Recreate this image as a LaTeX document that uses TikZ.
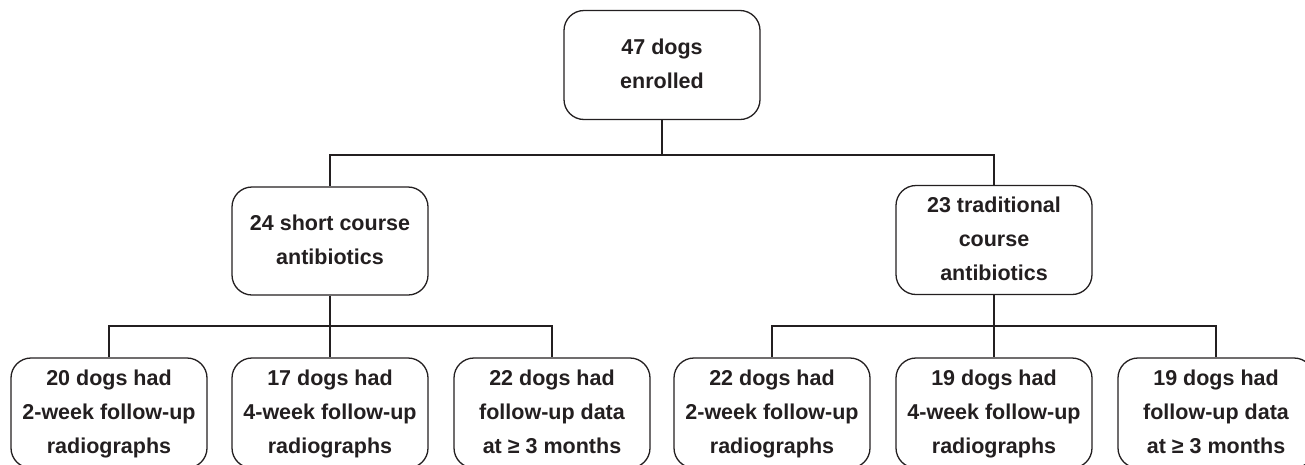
\documentclass[tikz,border=0pt]{standalone}
\usepackage{fontspec}
\setmainfont{Liberation Sans}
\definecolor{ink}{HTML}{231F20}
\begin{document}
\begin{tikzpicture}[x=1pt,y=-1pt,
  box/.style={draw=ink, line width=1.3pt, rounded corners=20pt, text=ink,
    minimum width=196pt, align=center, inner sep=0pt,
    font=\fontsize{21.5pt}{34pt}\selectfont\bfseries},
  link/.style={draw=ink, line width=1.3pt}]
\useasboundingbox (0,0) rectangle (1305,464);
\clip (0,0) rectangle (1305,464);
\node[box, minimum height=109pt] (top) at (662,65) {\strut 47 dogs\\enrolled\strut};
\node[box, minimum height=108pt] (sc) at (330,241) {\strut 24 short course\\antibiotics\strut};
\node[box, minimum height=109pt] (tc) at (994,240) {\strut 23 traditional\\course\\antibiotics\strut};
\node[box, minimum height=110pt] (a1) at (109,413) {\strut 20 dogs had\\2-week follow-up\\radiographs\strut};
\node[box, minimum height=110pt] (a2) at (330,413) {\strut 17 dogs had\\4-week follow-up\\radiographs\strut};
\node[box, minimum height=110pt] (a3) at (552,413) {\strut 22 dogs had\\follow-up data\\at ≥ 3 months\strut};
\node[box, minimum height=110pt] (b1) at (772,413) {\strut 22 dogs had\\2-week follow-up\\radiographs\strut};
\node[box, minimum height=110pt] (b2) at (994,413) {\strut 19 dogs had\\4-week follow-up\\radiographs\strut};
\node[box, minimum height=110pt] (b3) at (1216,413) {\strut 19 dogs had\\follow-up data\\at ≥ 3 months\strut};
\coordinate (j0) at (662,155);
\coordinate (j1) at (330,326);
\coordinate (j2) at (994,326);
\draw[link] (top.south) -- (j0);
\draw[link] (j0) -| (sc.north);
\draw[link] (j0) -| (tc.north);
\draw[link] (sc.south) -- (a2.north);
\draw[link] (j1) -| (a1.north);
\draw[link] (j1) -| (a3.north);
\draw[link] (tc.south) -- (b2.north);
\draw[link] (j2) -| (b1.north);
\draw[link] (j2) -| (b3.north);
\end{tikzpicture}
\end{document}
